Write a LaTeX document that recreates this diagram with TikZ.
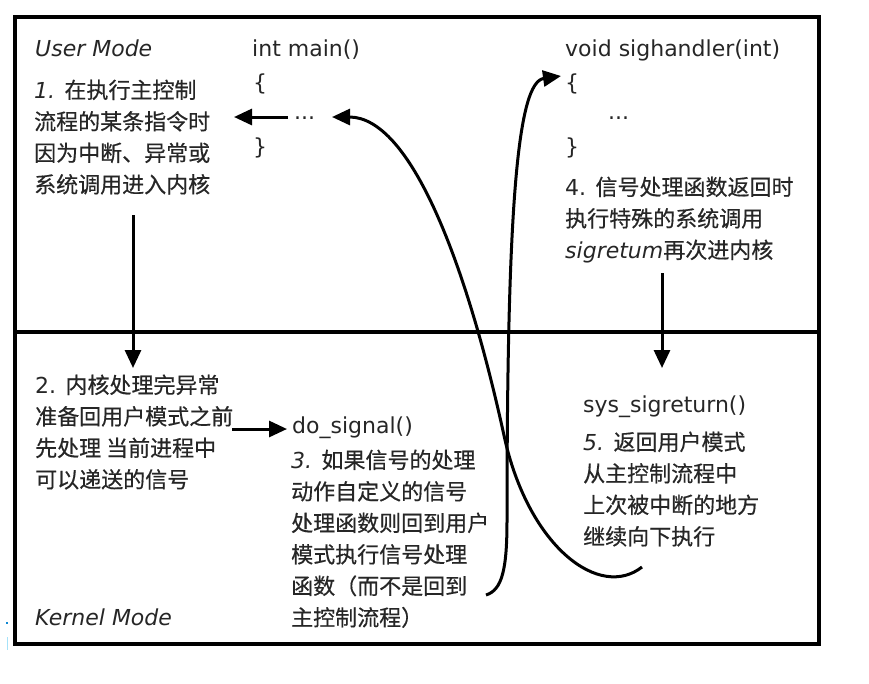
\documentclass[tikz,border=0pt]{standalone}
\usepackage{fontspec}
\setmainfont{DejaVu Sans}
\newfontfamily\cjk[FakeBold=0.5]{Noto Sans CJK SC}
\usetikzlibrary{arrows.meta}
\newcommand\zh[1]{{\cjk #1}}
\newcommand\firstline{\rule{0pt}{21pt}}
\begin{document}
\begin{tikzpicture}[x=1pt,y=-1pt,
  txt/.style={inner sep=0pt, anchor=base west, text=black!85, font=\fontsize{22}{31.5}\selectfont},
  blk/.style={inner sep=0pt, anchor=north west, align=left, text=black!85, font=\fontsize{22}{31.5}\selectfont},
  frame/.style={line width=3.5pt},
  arr/.style={line width=3pt, -{Triangle[length=18pt,width=16pt]}}]
\useasboundingbox (0,0) rectangle (869,683);
% frame
\draw[frame] (15,17) rectangle (819,644);
\draw[frame] (15,332) -- (819,332);
% artifacts at the left edge
\fill[cyan!70!blue] (6,622) rectangle (8,624);
\fill[cyan!35] (6.8,637) rectangle (8.2,650);
% user mode texts
\node[txt] (umode) at (35,56) {\itshape User Mode};
\node[blk] (b1) at (34,77) {\firstline{\itshape 1.} \zh{在执行主控制}\\ \zh{流程的某条指令时}\\ \zh{因为中断、异常或}\\ \zh{系统调用进入内核}};
\node[txt] (mainhd) at (252,56) {int main()};
\node[txt] (mainob) at (253,90) {\{};
\node[txt] (maindots) at (294,119) {...};
\node[txt] (maincb) at (253,154) {\}};
\node[txt] (shhd) at (565,56) {void sighandler(int)};
\node[txt] (shob) at (565,90) {\{};
\node[txt] (shdots) at (608,119) {...};
\node[txt] (shcb) at (565,154) {\}};
\node[blk] (b4) at (565,174) {\firstline 4. \zh{信号处理函数返回时}\\ \zh{执行特殊的系统调用}\\ {\itshape sigretum}\zh{再次进内核}};
% kernel mode texts
\node[blk] (b2) at (35,372) {\firstline 2. \zh{内核处理完异常}\\ \zh{准备回用户模式之前}\\ \zh{先处理 当前进程中}\\ \zh{可以递送的信号}};
\node[txt] (kmode) at (35,625) {\itshape Kernel Mode};
\node[txt] (dosig) at (292,433) {do\_signal()};
\node[blk] (b3) at (291,447) {\firstline{\itshape 3.} \zh{如果信号的处理}\\ \zh{动作自定义的信号}\\ \zh{处理函数则回到用户}\\ \zh{模式执行信号处理}\\ \zh{函数（而不是回到}\\ \zh{主控制流程）}};
\node[txt] (sysret) at (583,412) {sys\_sigreturn()};
\node[blk] (b5) at (583,429) {\firstline{\itshape 5.} \zh{返回用户模式}\\ \zh{从主控制流程中}\\ \zh{上次被中断的地方}\\ \zh{继续向下执行}};
% connector ends
\coordinate (a1s) at (133,215);
\coordinate (a1e) at (133,368);
\coordinate (a4s) at (662,273);
\coordinate (a4e) at (662,368);
\coordinate (a2s) at (232,429);
\coordinate (a2e) at (287,429);
\coordinate (trapin) at (288,117);
\coordinate (trapout) at (234,117);
\coordinate (retstart) at (642,567);
\coordinate (retmid) at (505,440);
\coordinate (retend) at (332,117);
\coordinate (hstart) at (486,595);
\coordinate (hmid) at (507,520);
\coordinate (hend) at (561,76);
% straight arrows
\draw[arr] (trapin) -- (trapout);
\draw[arr] (a1s) -- (a1e);
\draw[arr] (a4s) -- (a4e);
\draw[arr] (a2s) -- (a2e);
% curved arrows
\draw[arr] (retstart) .. controls (600,600) and (530,548) .. (retmid)
  .. controls (466,260) and (410,117) .. (retend);
\draw[arr] (hstart) .. controls (502,590) and (507,570) .. (hmid)
  .. controls (507,200) and (518,82) .. (hend);
\end{tikzpicture}
\end{document}
